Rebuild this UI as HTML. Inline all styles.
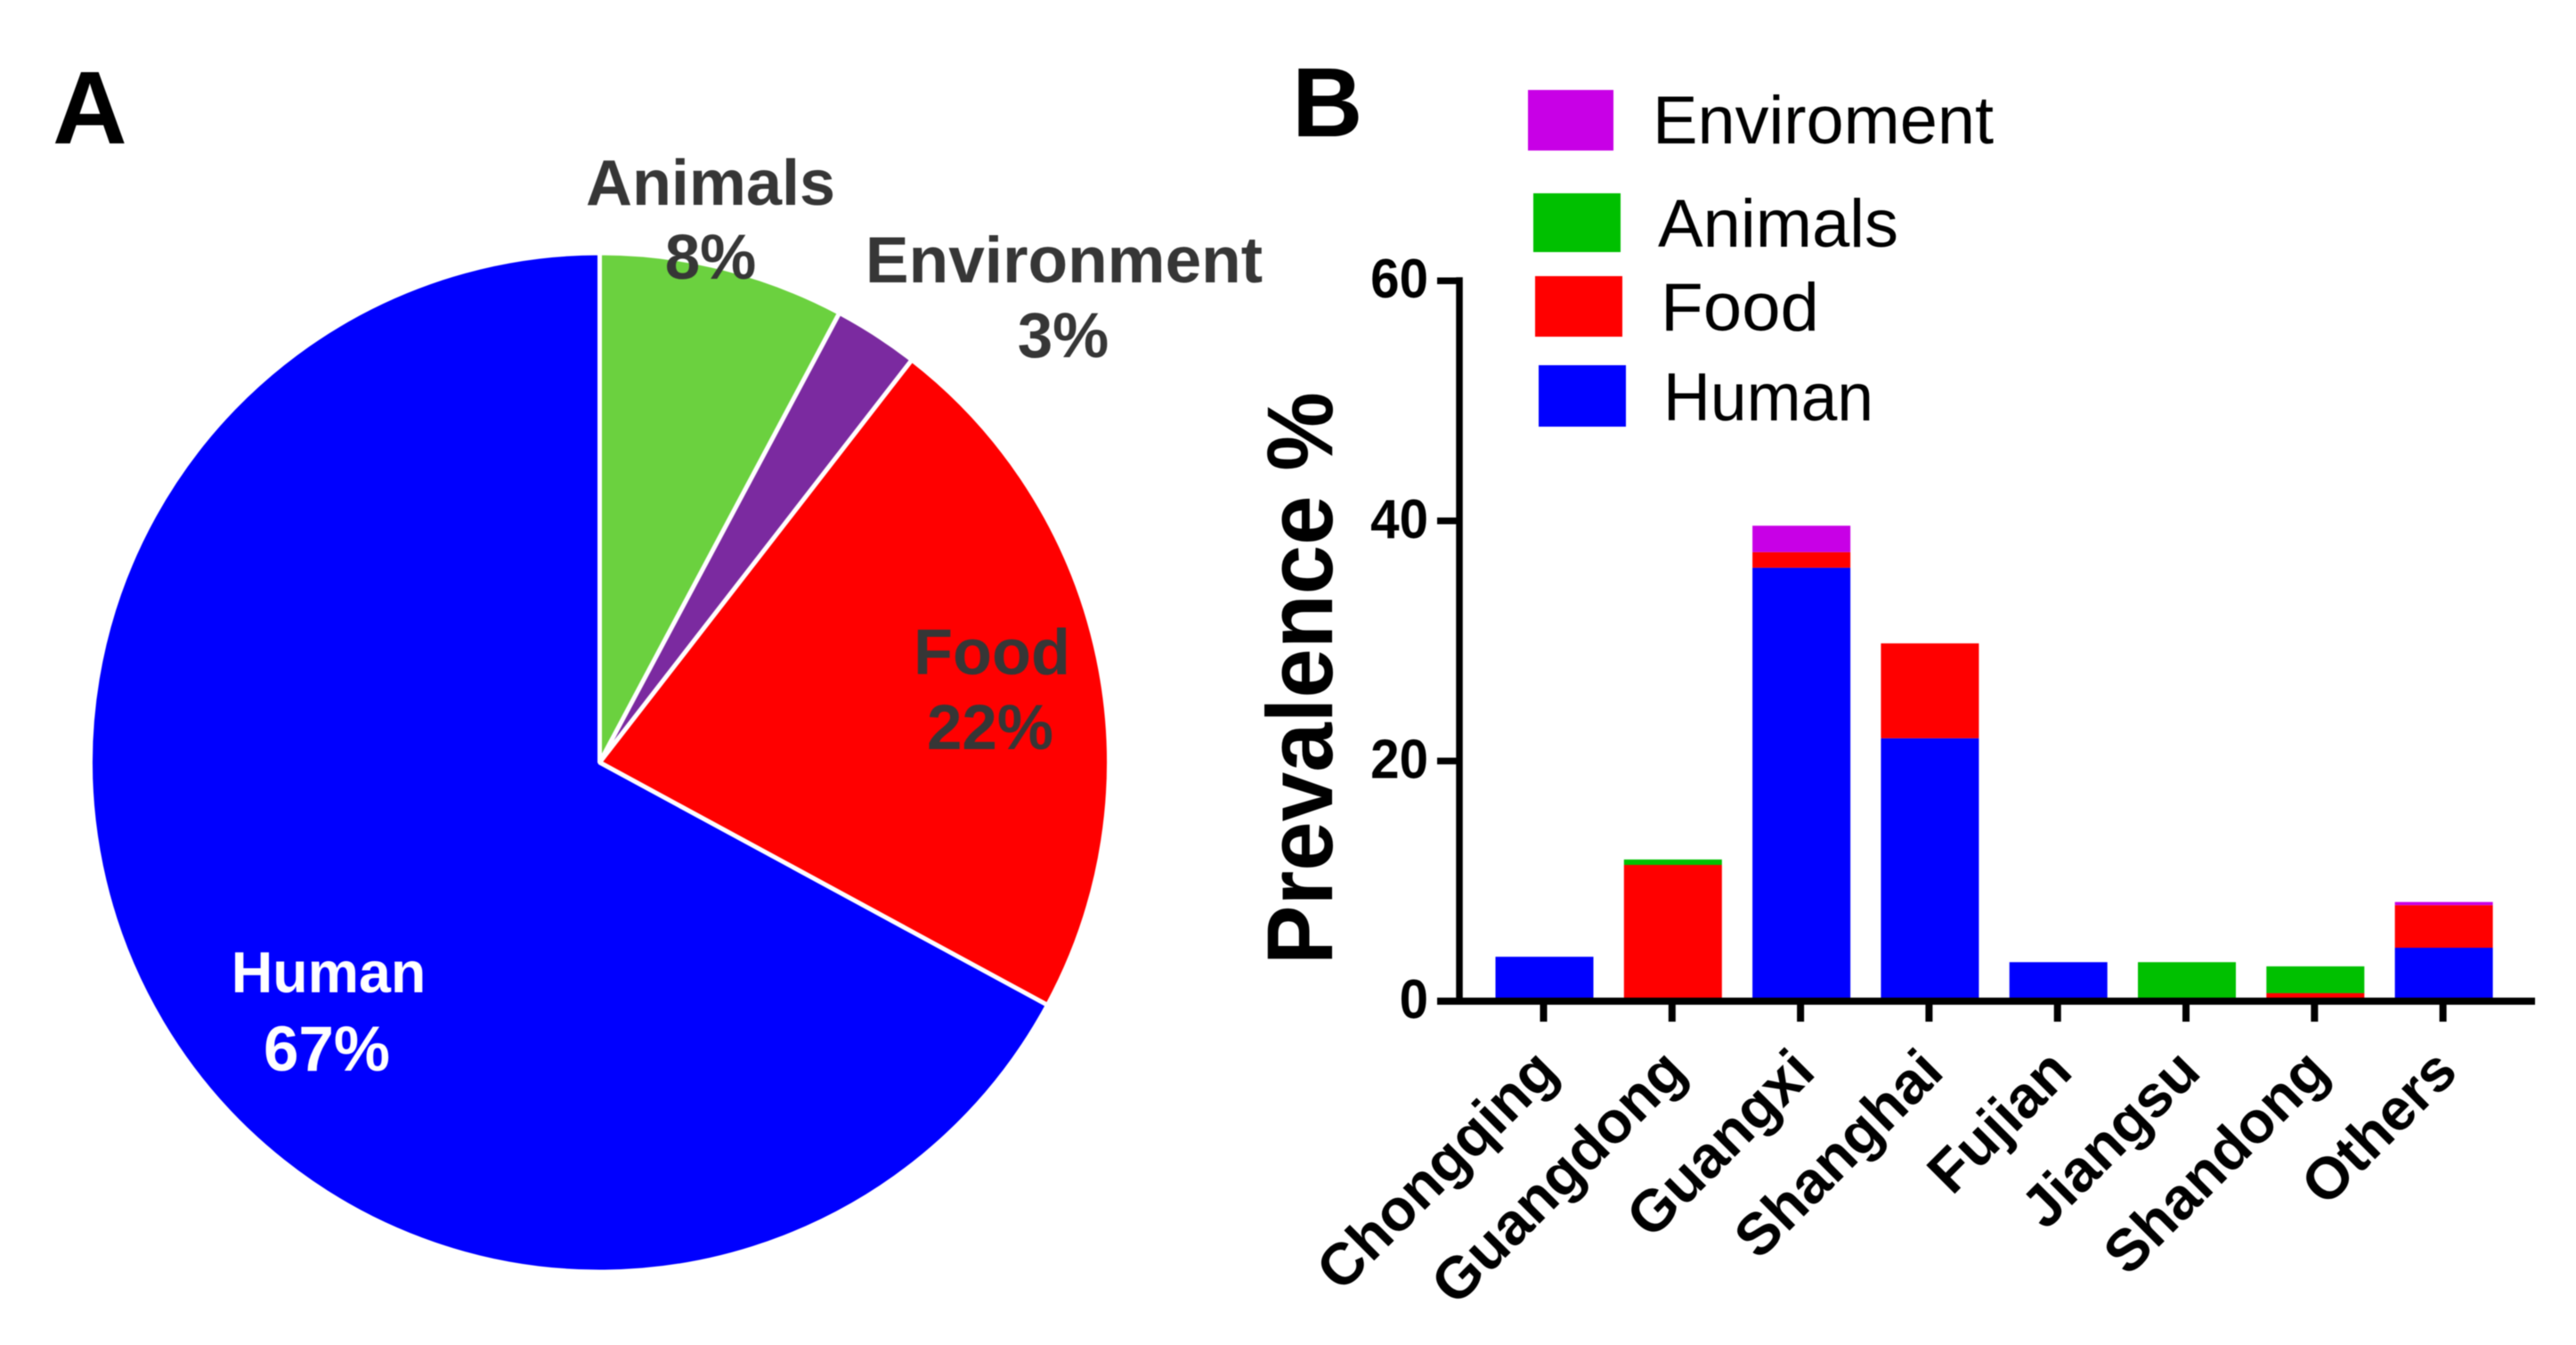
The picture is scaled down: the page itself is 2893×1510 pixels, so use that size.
<!DOCTYPE html>
<html lang="en">
<head>
<meta charset="utf-8">
<title>Prevalence by source and region</title>
<style>
html,body{margin:0;padding:0;background:#fff;width:2893px;height:1510px;overflow:hidden}
svg{display:block;filter:blur(0.6px)}
text{font-family:"Liberation Sans",sans-serif}
.b{font-weight:700}
.pl{font-weight:700;fill:#363636;text-anchor:middle}
.lg{font-size:76px;fill:#000}
</style>
</head>
<body>
<svg id="fig" xmlns="http://www.w3.org/2000/svg" width="2893" height="1510" viewBox="0 0 2893 1510">
  <rect width="2893" height="1510" fill="#fff"/>
  <text class="b" x="59" y="161" font-size="116" fill="#000">A</text>
  <text class="b" x="1451" y="153" font-size="110" fill="#000">B</text>

  <g id="pie"></g>
  <text class="pl" x="798" y="230" font-size="72">Animals</text>
  <text class="pl" x="798" y="313" font-size="71">8%</text>
  <text class="pl" x="1195" y="317" font-size="73">Environment</text>
  <text class="pl" x="1194" y="401" font-size="71">3%</text>
  <text class="pl" x="1114" y="757" font-size="72">Food</text>
  <text class="pl" x="1112" y="841" font-size="71">22%</text>
  <text class="pl" x="369" y="1114" font-size="64.5" style="fill:#fff">Human</text>
  <text class="pl" x="367" y="1202" font-size="71" style="fill:#fff">67%</text>

  <g id="bars"></g>
  <g id="axes"></g>
  <text class="b" transform="translate(1496 1083) rotate(-90) scale(1 1.05)" font-size="99.7" fill="#000">Prevalence %</text>

  <g>
    <rect x="1716" y="101" width="96" height="68" fill="#c800e6"/>
    <text class="lg" x="1856" y="161" textLength="383" lengthAdjust="spacingAndGlyphs">Enviroment</text>
    <rect x="1722" y="217" width="98" height="66" fill="#00c000"/>
    <text class="lg" x="1862" y="277" textLength="270" lengthAdjust="spacingAndGlyphs">Animals</text>
    <rect x="1724" y="310" width="98" height="68" fill="#ff0000"/>
    <text class="lg" x="1865" y="371" textLength="178" lengthAdjust="spacingAndGlyphs">Food</text>
    <rect x="1728" y="410" width="98" height="69" fill="#0000ff"/>
    <text class="lg" x="1868" y="472" textLength="236" lengthAdjust="spacingAndGlyphs">Human</text>
  </g>
</svg>
<script>
// Pie data (percent), clockwise from 12 o'clock
const pieNames = ['animals', 'environment', 'food', 'human'];
const pieValues = [7.8, 2.7, 22.4, 67.1];
const pieColors = ['#6bd13f', '#7b2aa0', '#ff0000', '#0000ff'];

// Stacked bar data
const categories = ['Chongqing', 'Guangdong', 'Guangxi', 'Shanghai', 'Fujian', 'Jiangsu', 'Shandong', 'Others'];
const humanValues = [3.7, 0, 36.1, 21.9, 3.25, 0, 0, 4.45];
const foodValues = [0, 11.35, 1.3, 7.9, 0, 0, 0.67, 3.55];
const animalValues = [0, 0.45, 0, 0, 0, 3.25, 2.23, 0];
const environmentValues = [0, 0, 2.2, 0, 0, 0, 0, 0.26];
const yTicks = [0, 20, 40, 60];

const NS = 'http://www.w3.org/2000/svg';
function make(tag, attrs) {
  const el = document.createElementNS(NS, tag);
  for (const k in attrs) el.setAttribute(k, attrs[k]);
  return el;
}

// Pie
const pieG = document.getElementById('pie');
const cx = 673.5, cy = 856, r = 572;
const pieTotal = pieValues.reduce((a, b) => a + b, 0);
let acc = 0;
pieValues.forEach((v, i) => {
  const a0 = acc / pieTotal * 2 * Math.PI;
  acc += v;
  const a1 = acc / pieTotal * 2 * Math.PI;
  const x0 = cx + r * Math.sin(a0), y0 = cy - r * Math.cos(a0);
  const x1 = cx + r * Math.sin(a1), y1 = cy - r * Math.cos(a1);
  const large = (a1 - a0) > Math.PI ? 1 : 0;
  const p = make('path', {
    d: `M${cx} ${cy}L${x0} ${y0}A${r} ${r} 0 ${large} 1 ${x1} ${y1}Z`,
    fill: pieColors[i], stroke: '#fff', 'stroke-width': 5, 'stroke-linejoin': 'bevel'
  });
  
  
  pieG.appendChild(p);
});

// Axis functions
const Y0 = 1124, PX_PER_UNIT = 13.48;
const X0 = 1733.5, STEP = 144.3, BAR_W = 110;
const yScale = v => Y0 - v * PX_PER_UNIT;
const xScale = i => X0 + i * STEP;

// Bars
const barsG = document.getElementById('bars');
const stack = [
  ['human', humanValues, '#0000ff'],
  ['food', foodValues, '#ff0000'],
  ['animals', animalValues, '#00c000'],
  ['environment', environmentValues, '#c800e6']
];
categories.forEach((c, i) => {
  let base = 0;
  stack.forEach(s => {
    const v = s[1][i];
    if (v <= 0) return;
    const top = yScale(base + v), bottom = yScale(base);
    const rect = make('rect', {
      x: xScale(i) - BAR_W / 2 + 1, y: top, width: BAR_W, height: bottom - top, fill: s[2]
    });
    
    
    barsG.appendChild(rect);
    base += v;
  });
});

// Axes
const axesG = document.getElementById('axes');
const yLine = make('line', { x1: 1639, x2: 1639, y1: yScale(60) - 4, y2: Y0, stroke: '#000', 'stroke-width': 7.5 });


axesG.appendChild(yLine);
const xLine = make('line', { x1: 1614, x2: 2847, y1: Y0, y2: Y0, stroke: '#000', 'stroke-width': 8 });


axesG.appendChild(xLine);

yTicks.forEach(t => {
  const y = yScale(t);
  const tick = make('line', { x1: 1614, x2: 1639, y1: y, y2: y, stroke: '#000', 'stroke-width': 7.5 });
  
  
  axesG.appendChild(tick);
  const label = make('text', {
    transform: `translate(1604 ${y + 19}) scale(.94 1)`,
    'text-anchor': 'end', 'font-size': 62, 'font-weight': 700, fill: '#000'
  });
  
  
  label.textContent = t;
  axesG.appendChild(label);
});

categories.forEach((c, i) => {
  const x = xScale(i);
  const tick = make('line', { x1: x, x2: x, y1: Y0, y2: 1147, stroke: '#000', 'stroke-width': 8 });
  
  
  axesG.appendChild(tick);
  const label = make('text', {
    transform: `translate(${x + 19} 1206) rotate(-45)`,
    'text-anchor': 'end', 'font-size': 66, 'font-weight': 700, fill: '#000'
  });
  
  
  label.textContent = c;
  axesG.appendChild(label);
});
</script>
</body>
</html>
